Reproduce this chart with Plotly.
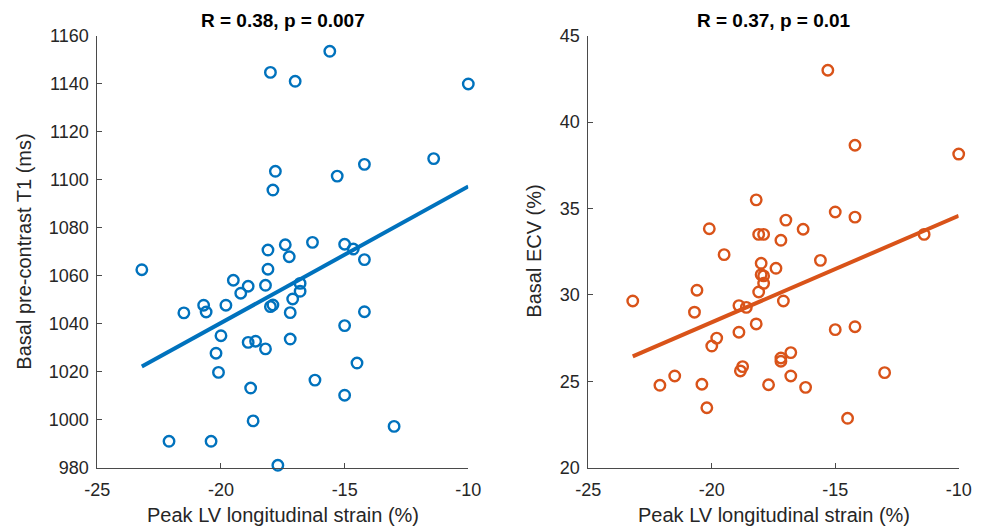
import numpy as np
import plotly.graph_objects as go

# ---------------- data ----------------
strain_t1 = [-18.0, -17.0, -15.6, -10.0, -17.8, -17.9, -15.3, -14.2, -11.4, -17.4,
             -16.3, -15.0, -18.1, -14.65, -17.24, -14.2, -23.2, -18.1, -19.5, -18.9,
             -18.2, -19.2, -16.8, -16.8, -17.1, -20.7, -19.8, -20.6, -21.5, -18.0,
             -17.9, -17.2, -14.2, -20.0, -15.0, -18.9, -18.6, -18.2, -17.2, -20.2,
             -20.1, -14.5, -16.2, -18.8, -15.0, -18.7, -13.0, -22.1, -20.4, -17.7]
t1 = [1144.7, 1141.0, 1153.5, 1139.9, 1103.5, 1095.7, 1101.5, 1106.4, 1108.8, 1072.9,
      1073.9, 1073.1, 1070.7, 1071.1, 1067.9, 1066.7, 1062.5, 1062.7, 1058.1, 1055.6,
      1056.0, 1052.7, 1056.8, 1053.5, 1050.3, 1047.7, 1047.7, 1044.9, 1044.5, 1047.1,
      1047.8, 1044.6, 1045.0, 1035.0, 1039.2, 1032.2, 1032.7, 1029.5, 1033.6, 1027.7,
      1019.7, 1023.6, 1016.5, 1013.2, 1010.2, 999.5, 997.2, 991.0, 991.0, 981.0]

strain_ecv = [-15.3, -14.2, -10.0, -18.2, -15.0, -14.2, -17.0, -20.1, -16.3, -18.1,
              -17.9, -17.2, -11.4, -19.5, -15.6, -18.0, -17.4, -18.0, -17.9, -17.9,
              -18.1, -20.6, -23.2, -17.1, -18.9, -18.6, -20.7, -18.2, -14.2, -15.0,
              -18.9, -19.8, -20.0, -16.8, -17.2, -17.2, -18.75, -18.84, -13.0, -21.5,
              -16.8, -22.1, -20.4, -17.7, -16.2, -20.2, -14.5]
ecv = [43.0, 38.66, 38.15, 35.5, 34.8, 34.5, 34.33, 33.83, 33.8, 33.5,
       33.5, 33.16, 33.5, 32.33, 32.0, 31.83, 31.54, 31.17, 31.1, 30.67,
       30.17, 30.27, 29.65, 29.65, 29.38, 29.28, 29.0, 28.32, 28.16, 27.99,
       27.84, 27.5, 27.04, 26.66, 26.35, 26.16, 25.85, 25.6, 25.5, 25.31,
       25.31, 24.77, 24.83, 24.8, 24.65, 23.47, 22.86]

x_ticks = [-25, -20, -15, -10]
x_tick_text = ["-25", "-20", "-15", "-10"]
t1_ticks = [980, 1000, 1020, 1040, 1060, 1080, 1100, 1120, 1140, 1160]
ecv_ticks = [20, 25, 30, 35, 40, 45]
titles = ["R = 0.38, p = 0.007", "R = 0.37, p = 0.01"]
x_label = "Peak LV longitudinal strain (%)"
y_labels = ["Basal pre-contrast T1 (ms)", "Basal ECV (%)"]

BLUE = "#0072BD"
ORANGE = "#D95319"
AX = "#4a4a4a"
TXT = "#262626"
FONT = "Liberation Sans, Arial, Helvetica, sans-serif"


def fit_line(x, y):
    x = np.asarray(x, float)
    y = np.asarray(y, float)
    m, b = np.polyfit(x, y, 1)
    xs = np.array([x.min(), x.max()])
    return xs, m * xs + b


fig = go.Figure()

for i, (xs, ys, col) in enumerate([(strain_t1, t1, BLUE), (strain_ecv, ecv, ORANGE)]):
    xa = "x" if i == 0 else "x2"
    ya = "y" if i == 0 else "y2"
    fig.add_trace(go.Scatter(
        x=xs, y=ys, mode="markers", xaxis=xa, yaxis=ya, cliponaxis=False,
        marker=dict(symbol="circle-open", size=10.5, color=col, line=dict(width=2.4, color=col)),
        showlegend=False, hoverinfo="x+y"))
    lx, ly = fit_line(xs, ys)
    fig.add_trace(go.Scatter(
        x=lx, y=ly, mode="lines", xaxis=xa, yaxis=ya, cliponaxis=False,
        line=dict(color=col, width=4), showlegend=False, hoverinfo="skip"))

W, H = 982, 527
left_dom = [97.3 / W, 468.3 / W]
right_dom = [588.3 / W, 958.7 / W]
y_dom = [(H - 467.7) / H, (H - 35.7) / H]

common_x = dict(range=[-25, -10], tickvals=x_ticks, ticktext=x_tick_text,
                ticks="inside", ticklen=5,
                tickcolor=AX, showline=True, linecolor=AX, linewidth=1,
                showgrid=False, zeroline=False, mirror=False, automargin=False,
                tickfont=dict(family=FONT, size=18, color=TXT), ticklabelstandoff=6)
common_y = dict(ticks="inside", ticklen=5, tickcolor=AX, showline=True,
                linecolor=AX, linewidth=1, showgrid=False, zeroline=False,
                automargin=False,
                tickfont=dict(family=FONT, size=18, color=TXT), ticklabelstandoff=4)

fig.update_layout(
    width=W, height=H,
    margin=dict(l=0, r=0, t=0, b=0, autoexpand=False),
    paper_bgcolor="white", plot_bgcolor="white",
    xaxis=dict(domain=left_dom, anchor="y", **common_x),
    yaxis=dict(domain=y_dom, anchor="x", range=[980, 1160], tickvals=t1_ticks, **common_y),
    xaxis2=dict(domain=right_dom, anchor="y2", **common_x),
    yaxis2=dict(domain=y_dom, anchor="x2", range=[20, 45], tickvals=ecv_ticks, **common_y),
)

centers = [(left_dom[0] + left_dom[1]) / 2, (right_dom[0] + right_dom[1]) / 2]
ylab_x = [24 / W, 534 / W]
ann = []
for i in range(2):
    ann.append(dict(text="<b>" + titles[i] + "</b>", x=centers[i], y=(H - 21) / H,
                    xref="paper", yref="paper", showarrow=False, xanchor="center",
                    yanchor="middle", font=dict(family=FONT, size=19, color="black")))
    ann.append(dict(text=x_label, x=centers[i], y=(H - 515) / H, xref="paper",
                    yref="paper", showarrow=False, xanchor="center", yanchor="middle",
                    font=dict(family=FONT, size=20, color=TXT)))
    ann.append(dict(text=y_labels[i], x=ylab_x[i], y=(y_dom[0] + y_dom[1]) / 2,
                    xref="paper", yref="paper", showarrow=False, textangle=-90,
                    xanchor="center", yanchor="middle",
                    font=dict(family=FONT, size=20, color=TXT)))
fig.update_layout(annotations=ann)

fig.write_html("out.html",
               config={"displayModeBar": False},
               post_script="document.body.style.margin='0';"
                           "document.body.style.overflow='hidden';")
